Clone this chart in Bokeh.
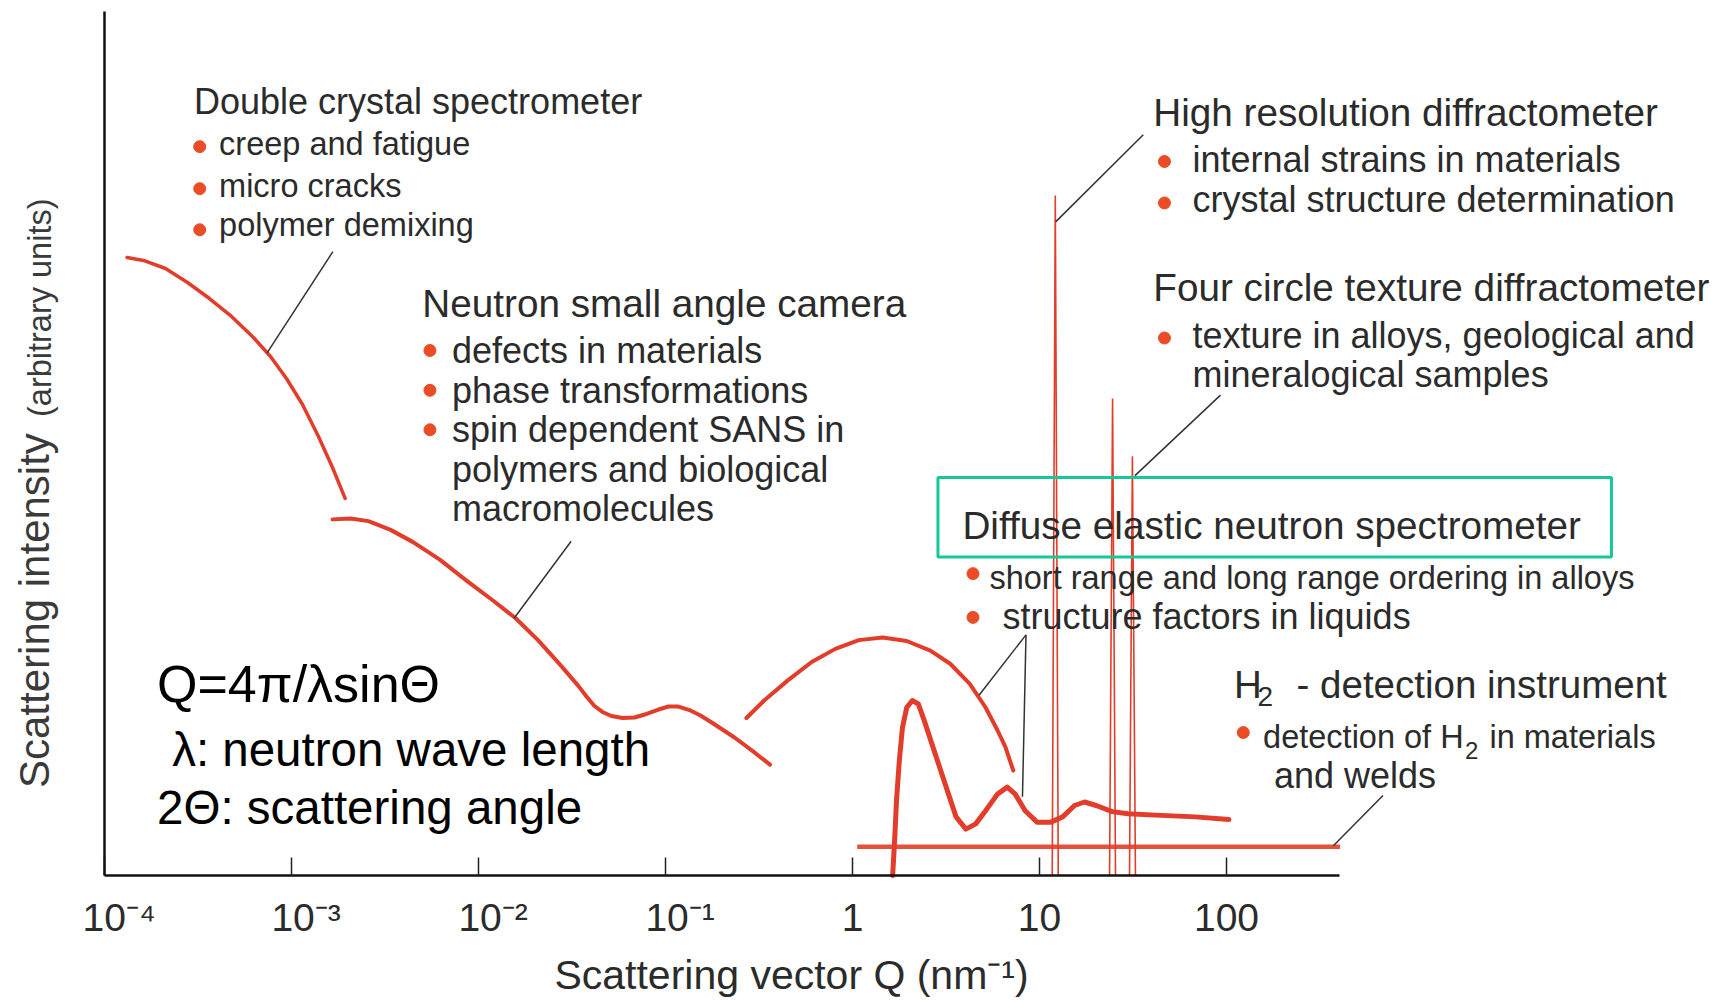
import math
from bokeh.plotting import figure
from bokeh.models import Range1d, FixedTicker, ColumnDataSource
from bokeh.core.properties import value
from bokeh.embed import file_html
from bokeh.resources import INLINE

# ---------------- data ----------------
# x: scattering vector Q (nm^-1), y: scattering intensity (arbitrary units, 0-100)
tick_values = [1e-4, 1e-3, 1e-2, 1e-1, 1, 10, 100]
PAD = "\u2002\u2005"  # keeps the "10" centred on its tick, exponent hanging to the right
tick_labels = [PAD + "10\u207b\u2074", PAD + "10\u207b\u00b3", PAD + "10\u207b\u00b2",
               PAD + "10\u207b\u00b9", "1", "10", "100"]

# Double crystal spectrometer curve
dcs_q = [1.32e-4, 1.616e-4, 2.12e-4, 2.78e-4, 3.64e-4, 4.78e-4, 6.26e-4, 7.72e-4, 9.40e-4,
         1.145e-3, 1.394e-3, 1.657e-3, 1.935e-3]
dcs_i = [70.63, 70.29, 69.37, 67.77, 65.94, 63.89, 61.49, 59.31, 56.8, 53.83, 50.17, 46.63, 43.09]

# Neutron small angle camera curve
sans_q = [1.66e-3, 2.07e-3, 2.58e-3, 3.39e-3, 4.47e-3, 6.21e-3, 8.63e-3, 1.20e-2, 1.58e-2, 2.08e-2,
          2.73e-2, 3.41e-2, 3.78e-2, 4.17e-2, 4.60e-2, 5.14e-2, 5.89e-2, 6.83e-2, 7.91e-2, 9.18e-2,
          0.1038, 0.1174, 0.1343, 0.1539, 0.1784, 0.2339, 0.2918, 0.362]
sans_i = [40.7, 40.8, 40.5, 39.5, 38.1, 36.1, 33.7, 31.4, 29.4, 26.9,
          24.1, 21.7, 20.46, 19.37, 18.69, 18.23, 18.0, 18.06, 18.46, 18.97,
          19.31, 19.31, 18.91, 18.29, 17.43, 15.77, 14.25, 12.67]

# Diffuse elastic neutron spectrometer (short/long range order) curve
dens_q = [0.271, 0.337, 0.451, 0.605, 0.810, 1.08, 1.45, 1.95, 2.61, 3.33, 4.24, 5.15, 5.96, 6.57, 7.24]
dens_i = [18.0, 20.0, 22.3, 24.4, 25.9, 26.9, 27.2, 26.8, 25.7, 24.2, 21.9, 19.2, 16.6, 14.7, 12.0]

# Structure factor of liquids curve
liq_q = [1.64, 1.68, 1.72, 1.78, 1.85, 1.95, 2.09, 2.25, 2.42, 2.73, 3.17, 3.58, 4.04, 4.56, 5.15,
         5.96, 6.73, 7.42, 8.38, 9.70, 11.5, 13.3, 15.4, 17.4, 20.1, 24.5, 29.7, 41.8, 68.1, 103]
liq_i = [0.0, 4.0, 8.6, 13.1, 16.9, 19.2, 20.0, 19.6, 17.7, 14.3, 10.1, 6.7, 5.3, 5.9, 7.4,
         9.3, 10.1, 9.3, 7.4, 6.1, 6.1, 6.7, 8.0, 8.4, 8.0, 7.3, 7.05, 6.9, 6.7, 6.4]

# Diffraction peaks (left foot, top, right foot)
peak_q = [[11.7, 12.15, 12.6], [23.7, 24.6, 25.5], [30.3, 31.4, 32.6]]
peak_i = [[0, 77.7, 0], [0, 54.5, 0], [0, 47.9, 0]]

# H2 detection instrument (flat level)
h2_q = [1.06, 405]
h2_i = [3.3, 3.3]

# ---------------- texts ----------------
dcs_title = "Double crystal spectrometer"
dcs_items = ["creep and fatigue", "micro cracks", "polymer demixing"]
sans_title = "Neutron small angle camera"
sans_items = ["defects in materials", "phase transformations", "spin dependent SANS in",
              "polymers and biological", "macromolecules"]
hrd_title = "High resolution diffractometer"
hrd_items = ["internal strains in materials", "crystal structure determination"]
fct_title = "Four circle texture diffractometer"
fct_items = ["texture in alloys, geological and", "mineralogical samples"]
dens_title = "Diffuse elastic neutron spectrometer"
dens_item1 = "short range and long range ordering in alloys"
dens_item2 = "structure factors in liquids"
eq_lines = ["Q=4\u03c0/\u03bbsin\u0398", "\u03bb: neutron wave length", "2\u0398: scattering angle"]
x_title = "Scattering vector Q (nm\u207b\u00b9)"
y_title1 = "Scattering intensity"
y_title2 = "(arbitrary units)"

# ---------------- styles ----------------
FONT = "Liberation Sans"
TXT = "#2b2b2b"
RED = "#e23d2a"
BUL = "#ea4d26"
GREEN = "#17c797"
LEAD = "#333333"
PX_PER_UNIT = 8.75  # vertical pixels per intensity unit

p = figure(width=1726, height=1000, x_axis_type="log",
           x_range=Range1d(2.779e-5, 4.72e4), y_range=Range1d(-14.2857, 100),
           output_backend="svg", toolbar_location=None, min_border=0)
p.background_fill_color = "white"
p.border_fill_color = "white"
p.outline_line_color = None
p.xgrid.visible = False
p.ygrid.visible = False

# x axis, drawn at intensity 0
xa = p.xaxis[0]
xa.fixed_location = 0
xa.ticker = FixedTicker(ticks=tick_values, minor_ticks=[])
xa.major_label_overrides = {v: s for v, s in zip(tick_values, tick_labels)}
xa.bounds = (1e-4, 400)
xa.axis_line_width = 2.5
xa.axis_line_color = "#111111"
xa.major_tick_in = 18
xa.major_tick_out = 0
xa.major_tick_line_width = 1.5
xa.major_tick_line_color = "#222222"
xa.minor_tick_line_color = None
xa.major_label_standoff = 20
xa.major_label_text_font = FONT
xa.major_label_text_font_size = "39px"
xa.major_label_text_color = TXT

# y axis: plain line at Q = 1e-4
ya = p.yaxis[0]
ya.fixed_location = 1e-4
ya.ticker = FixedTicker(ticks=[])
ya.bounds = (0, 98.7)
ya.axis_line_width = 2.5
ya.axis_line_color = "#111111"
ya.major_tick_in = 0
ya.major_tick_out = 0
ya.minor_tick_line_color = None
ya.major_label_text_font_size = "0px"

# curves
p.line(dcs_q, dcs_i, line_color=RED, line_width=3.5, line_cap="round", line_join="round")
p.line(sans_q, sans_i, line_color=RED, line_width=4, line_cap="round", line_join="round")
p.line(dens_q, dens_i, line_color=RED, line_width=4, line_cap="round", line_join="round")
p.line(liq_q, liq_i, line_color=RED, line_width=5, line_cap="round", line_join="round")
p.line(h2_q, h2_i, line_color=RED, line_width=4.5, alpha=0.9)
for qs, iss in zip(peak_q, peak_i):
    p.line(qs, iss, line_color=RED, line_width=1.6)

# green box
p.quad(left=[2.865], right=[11450], bottom=[36.4], top=[45.49],
       fill_color=None, line_color=GREEN, line_width=3)

# leader lines
p.segment(x0=[1.665e-3, 3.13e-2, 35.9, 92.9, 8.47, 8.47, 687],
          y0=[71.3, 38.2, 84.65, 54.9, 27.5, 27.5, 9.14],
          x1=[7.39e-4, 1.55e-2, 12.2, 32.4, 4.75, 8.11, 373],
          y1=[59.7, 29.4, 74.7, 45.7, 20.6, 9.0, 3.4],
          line_color=LEAD, line_width=1.5)

# bullets
bx = [3.23e-4] * 3 + [5.50e-3] * 3 + [46.6] * 3 + [4.41] * 2 + [123]
by = [83.3, 78.5, 73.8, 60.0, 55.45, 50.94, 81.6, 76.86, 61.43, 34.5, 29.5, 16.34]
p.scatter(bx, by, size=12, color=BUL, marker="circle")


def add_text(xs, ys, texts, size, color=TXT, align="left"):
    # ys are baselines; lift by 0.35 em to compensate for the renderer's baseline placement
    lift = 0.35 * size / PX_PER_UNIT
    src = ColumnDataSource(dict(x=xs, y=[y + lift for y in ys], t=texts))
    p.text(x="x", y="y", text="t", source=src, text_font=value(FONT),
           text_font_size=value(f"{size}px"), text_color=color, text_align=align,
           text_baseline="alphabetic")


# titles (larger)
add_text([3.01e-4], [87.0], [dcs_title], 36)
add_text([5.01e-3, 40.6, 40.6, 3.87], [63.8, 85.66, 65.6, 38.5],
         [sans_title, hrd_title, fct_title, dens_title], 38.7)
# bullet items
add_text([4.1e-4] * 3, [82.3, 77.5, 73.1], dcs_items, 32.5)
add_text([7.22e-3] * 5, [58.57, 54.03, 49.5, 44.97, 40.46], sans_items, 36)
add_text([65.8] * 4, [80.42, 75.83, 60.26, 55.8], hrd_items + fct_items, 36)
add_text([5.40], [32.72], [dens_item1], 32.5)
add_text([6.34], [28.11], [dens_item2], 36)
# H2 instrument
add_text([109.6, 237], [20.34, 20.34], ["H", "- detection instrument"], 38.5)
add_text([146.5], [19.31], ["2"], 28)
add_text([157, 2549], [14.57, 14.57], ["detection of H", "in materials"], 32.5)
add_text([1886], [13.37], ["2"], 24)
add_text([179.5], [10.0], ["and welds"], 36)
# equations
add_text([1.91e-4], [19.77], [eq_lines[0]], 52, color="#000000")
add_text([2.30e-4, 1.91e-4], [12.51, 5.89], eq_lines[1:], 47.5, color="#000000")
# x-axis title
add_text([0.472], [-13.0], [x_title], 41, align="center")

# y-axis title (rotated); anchors already lifted along the text's up direction
ysrc = ColumnDataSource(dict(x=[4.24e-5, 4.52e-5], y=[10.0, 52.4], t=[y_title1, y_title2],
                             s=["42px", "32.5px"]))
p.text(x="x", y="y", text="t", source=ysrc, angle=math.pi / 2, text_font=value(FONT),
       text_font_size="s", text_color="#3a3a3a", text_align="left", text_baseline="alphabetic")

open("out.html", "w").write(file_html(p, INLINE))
